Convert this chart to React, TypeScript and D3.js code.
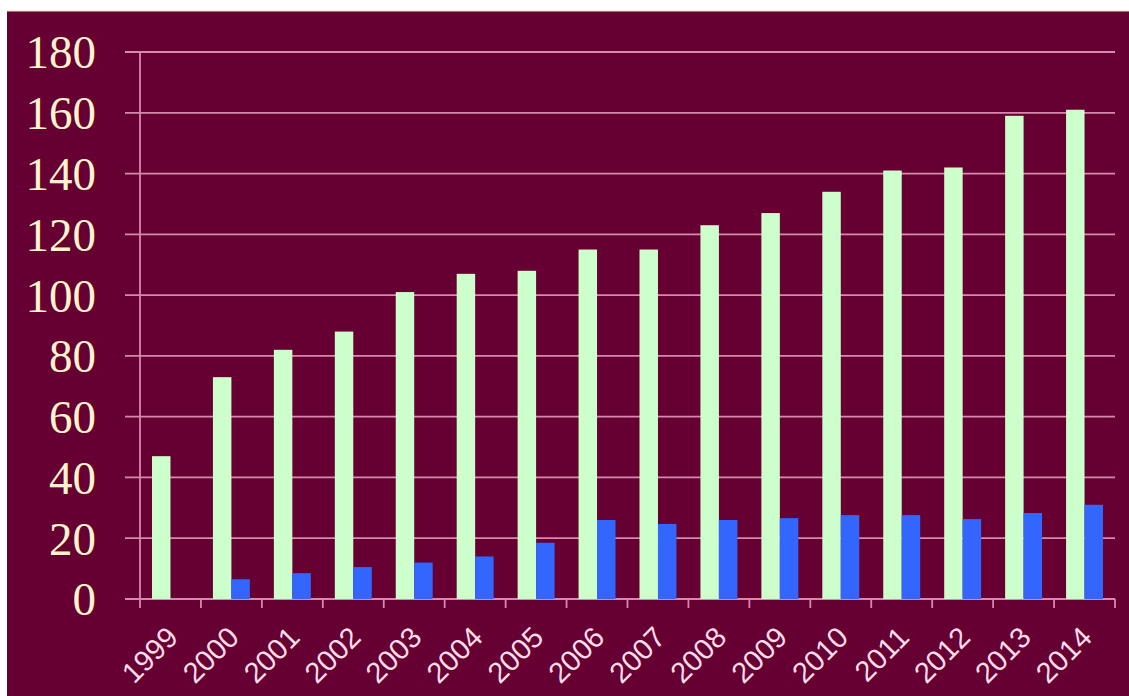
import React from "react";
import * as d3 from "d3";

const years = ["1999","2000","2001","2002","2003","2004","2005","2006","2007","2008","2009","2010","2011","2012","2013","2014"];
const greenValues = [47, 73, 82, 88, 101, 107, 108, 115, 115, 123, 127, 134, 141, 142, 159, 161];
const blueValues = [0, 6.5, 8.5, 10.5, 12, 14, 18.5, 26, 24.7, 26, 26.6, 27.6, 27.6, 26.3, 28.3, 31];
const yTicks = [0, 20, 40, 60, 80, 100, 120, 140, 160, 180];
const seriesKeys = ["green", "blue"];

const W = 1129, H = 696;
const BG = "#660033";
const GRID = "#d58aab";

export default function App() {
  const x0 = d3.scaleBand<string>().domain(years).range([140, 1115]).padding(0);
  const x1 = d3.scaleBand<string>().domain(seriesKeys).range([0, x0.bandwidth()]).paddingInner(0).paddingOuter(0.65);
  const y = d3.scaleLinear().domain([0, 180]).range([599, 52]);
  const colors: Record<string, string> = { green: "#ccffcc", blue: "#3366ff" };
  const vals: Record<string, number[]> = { green: greenValues, blue: blueValues };

  return (
    <svg width={W} height={H} style={{ position: "absolute", left: 0, top: 0, background: "#ffffff" }}>
      <rect x={7} y={11} width={W - 7} height={H - 11} fill={BG} />
      <line x1={7} x2={W} y1={11} y2={11} stroke="#efe2b8" strokeWidth={1} />
      {yTicks.map((t) => (
        <g key={t}>
          <line x1={125} x2={1115} y1={y(t)} y2={y(t)} stroke={GRID} strokeWidth={1.8} />
          <text x={96} y={y(t)} dy="0.35em" textAnchor="end" fill="#fff4cc"
            style={{ fontFamily: "'Liberation Serif', 'Times New Roman', serif", fontSize: 47 }}>{t}</text>
        </g>
      ))}
      <line x1={140} x2={140} y1={52} y2={608} stroke={GRID} strokeWidth={1.8} />
      {years.map((yr) => (
        <line key={"tk" + yr} x1={(x0(yr) as number) + x0.bandwidth()} x2={(x0(yr) as number) + x0.bandwidth()}
          y1={599} y2={608} stroke={GRID} strokeWidth={1.8} />
      ))}
      {years.map((yr, i) => (
        <g key={yr} transform={`translate(${x0(yr)},0)`}>
          {seriesKeys.map((k) => {
            const v = vals[k][i];
            if (!v) return null;
            return (
              <rect key={k} x={x1(k)} y={y(v)} width={x1.bandwidth()} height={y(0) - y(v)} fill={colors[k]} />
            );
          })}
        </g>
      ))}
      {years.map((yr) => {
        const cx = (x0(yr) as number) + x0.bandwidth() / 2 + 2;
        const cy = 632;
        return (
          <text key={"lbl" + yr} x={cx} y={cy} textAnchor="end" fill="#ffdce8"
            transform={`rotate(-45 ${cx} ${cy})`} dy="0.35em"
            style={{ fontFamily: "'Liberation Sans', Arial, sans-serif", fontSize: 29 }}>{yr}</text>
        );
      })}
    </svg>
  );
}
